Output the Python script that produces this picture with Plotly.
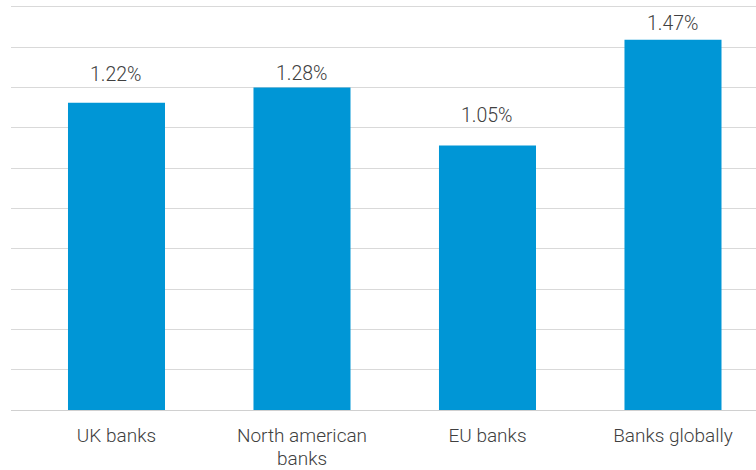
import plotly.graph_objects as go

categories = ["UK banks", "North american<br>banks", "EU banks", "Banks globally"]
values = [1.22, 1.28, 1.05, 1.47]
value_labels = ["1.22%", "1.28%", "1.05%", "1.47%"]
grid_values = [0, 0.16, 0.32, 0.48, 0.64, 0.8, 0.96, 1.12, 1.28, 1.44, 1.6]

# style: pixel offset of each value label's centre above its bar top
label_offsets_px = [28.5, 14, 30, 16.5]

BAR_COLOR = "#0096D6"
TEXT_COLOR = "#404040"
FONT = "Roboto, Liberation Sans, Arial, sans-serif"
FSIZE = 19
LINE_GAP = 22  # px between wrapped category label lines

fig = go.Figure()
fig.add_trace(go.Bar(
    x=list(range(len(categories))),
    y=values,
    marker=dict(color=BAR_COLOR, line=dict(width=0)),
    width=0.523,
    hoverinfo="skip",
))

for i, (v, t) in enumerate(zip(values, value_labels)):
    fig.add_annotation(x=i, y=v, text=t, showarrow=False, yanchor="middle",
                       yshift=label_offsets_px[i],
                       font=dict(family=FONT, size=FSIZE + 0.5, color=TEXT_COLOR, weight=300))

# category labels: first line as tick label, further lines as tighter-spaced annotations
first_lines = [c.split("<br>")[0] for c in categories]
for i, c in enumerate(categories):
    for k, line in enumerate(c.split("<br>")[1:], start=1):
        fig.add_annotation(x=i, xref="x", y=0, yref="paper", text=line, showarrow=False,
                           yanchor="middle", yshift=-26 - LINE_GAP * k, borderpad=0,
                           font=dict(family=FONT, size=FSIZE, color=TEXT_COLOR, weight=300))

fig.update_layout(
    template="none",
    width=756, height=470,
    margin=dict(l=11, r=0, t=5, b=60, autoexpand=False),
    paper_bgcolor="white", plot_bgcolor="white",
    showlegend=False,
    font=dict(family=FONT, size=FSIZE, color=TEXT_COLOR),
    xaxis=dict(
        automargin=False,
        range=[-0.5687, 3.4475],
        tickvals=list(range(len(categories))),
        ticktext=first_lines,
        showgrid=False, zeroline=False, showline=False,
        ticks="", ticklabelstandoff=12,
        tickfont=dict(family=FONT, size=FSIZE, color=TEXT_COLOR, weight=300),
    ),
    yaxis=dict(
        automargin=False,
        range=[0, 1.6078],
        tickvals=grid_values,
        showgrid=True, gridcolor="#d9d9d9", gridwidth=1,
        zeroline=True, zerolinecolor="#d0d0d0", zerolinewidth=1,
        showticklabels=False, showline=False, ticks="",
    ),
)

fig.write_html("out.html", config={"displayModeBar": False},
               post_script="document.body.style.margin='0';document.body.style.padding='0';")
